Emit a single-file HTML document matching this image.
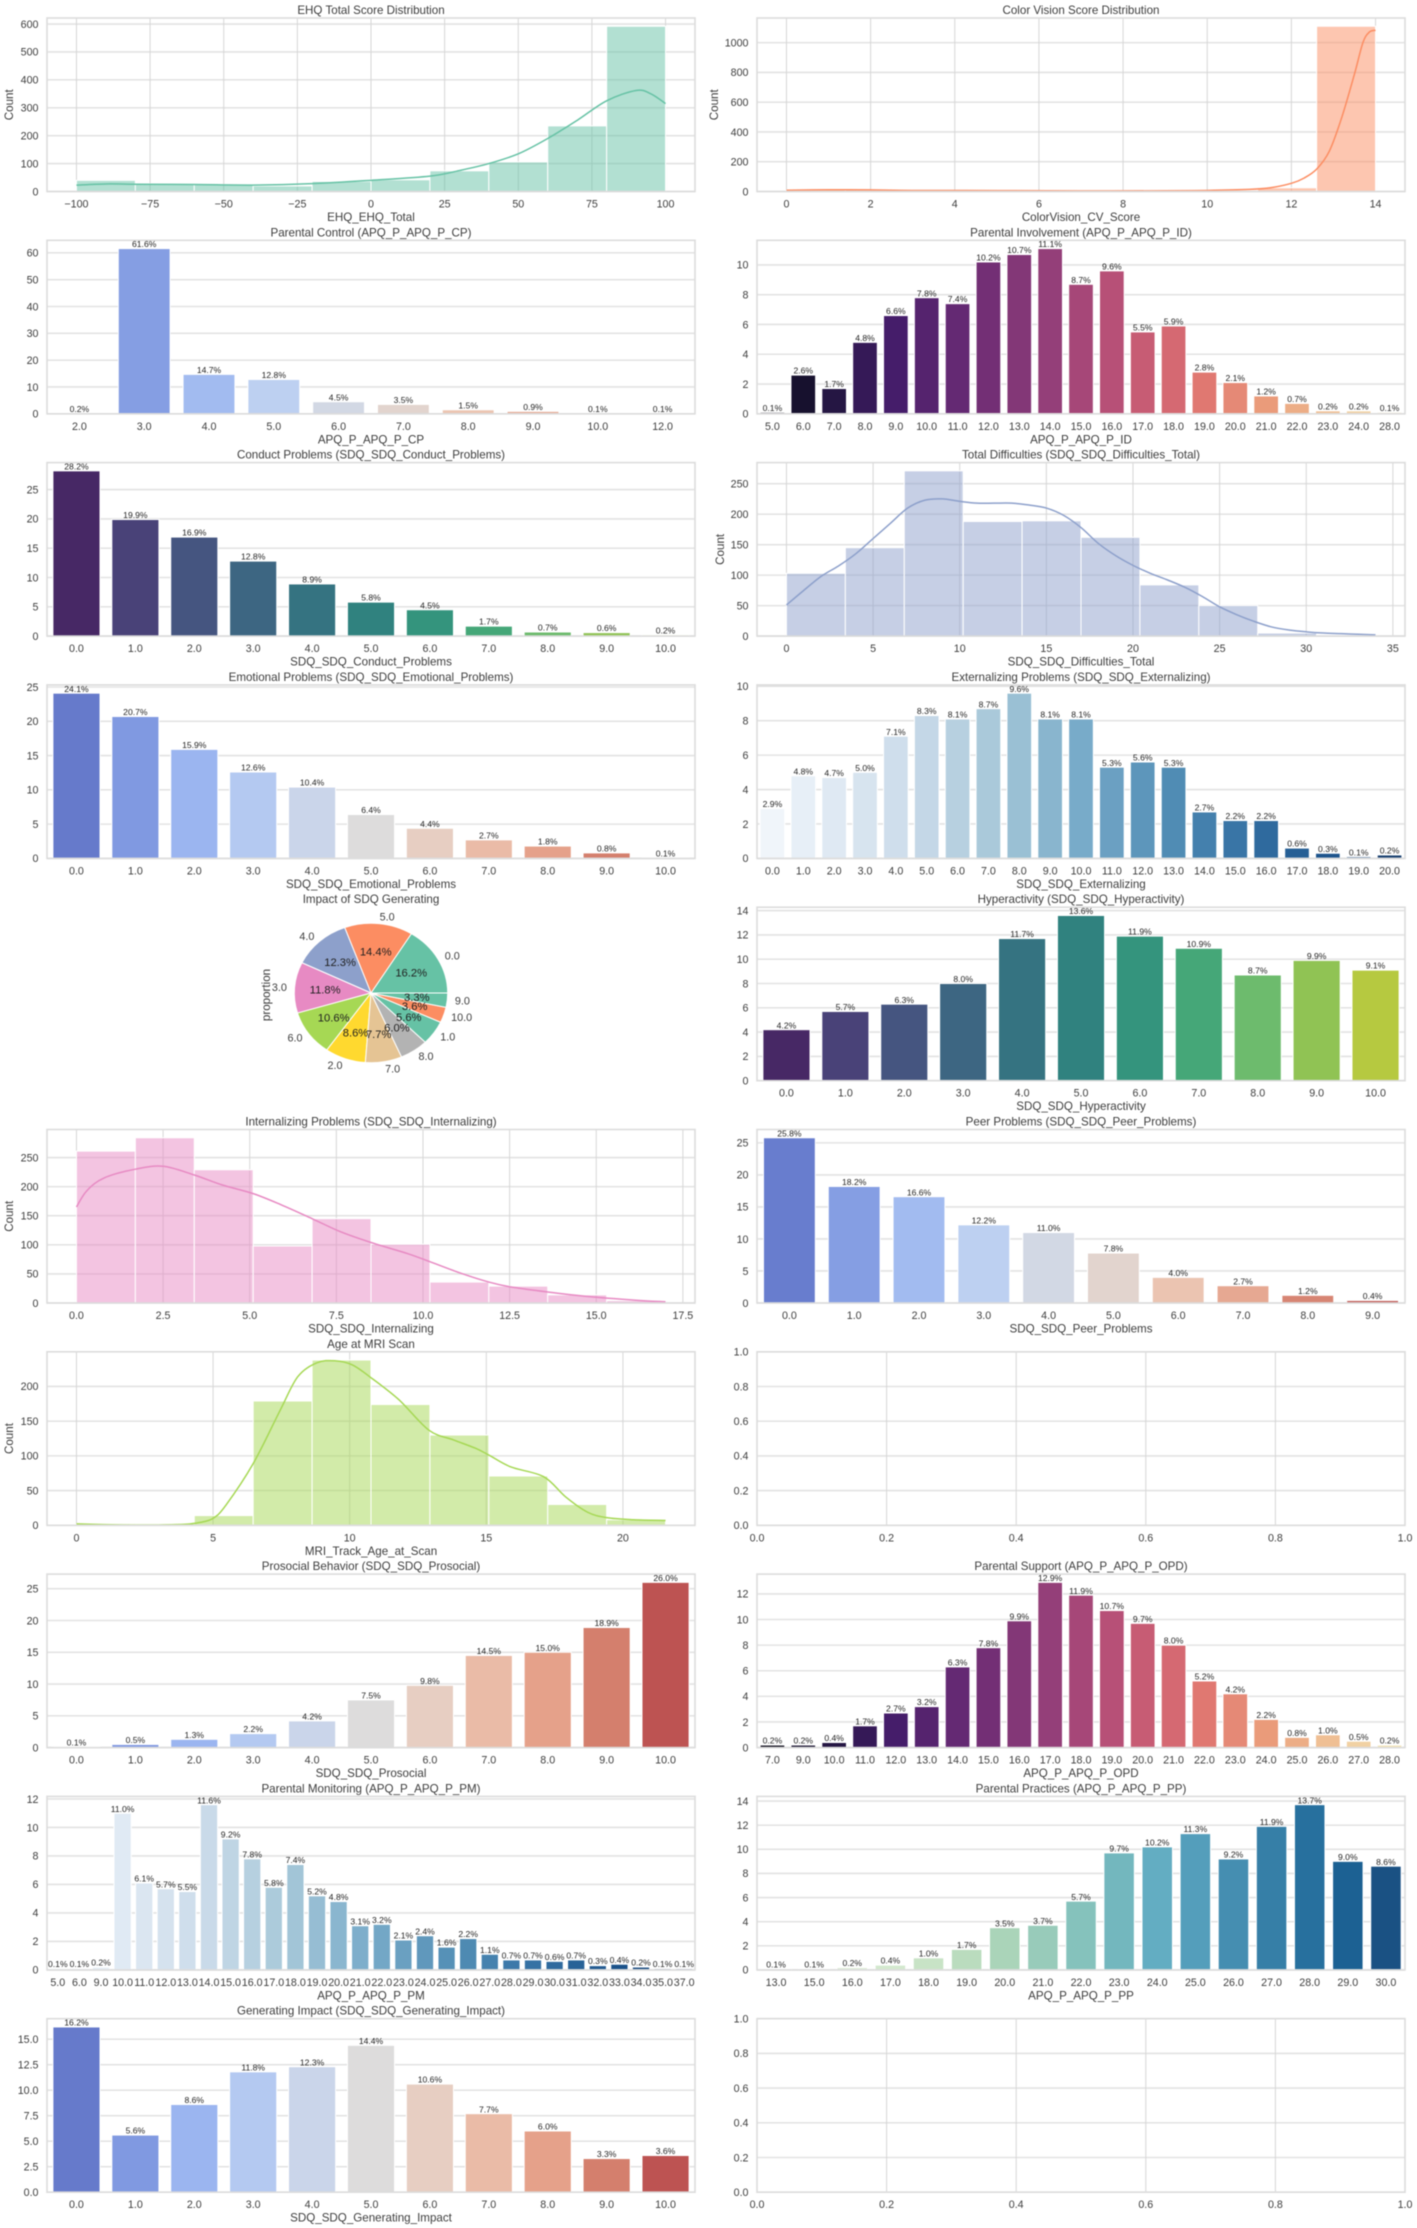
<!DOCTYPE html>
<html lang="en">
<head>
<meta charset="utf-8">
<title>Questionnaire Distributions</title>
<style>
html,body{margin:0;padding:0;background:#fff;}
#figure{display:block;width:1417px;height:2228px;filter:blur(0.55px);}
text{font-family:"Liberation Sans",sans-serif;fill:#3d3d3d;}
text.value-label{fill:#1f1f1f;}
</style>
</head>
<body>
<svg id="figure" xmlns="http://www.w3.org/2000/svg" width="1417" height="2228" viewBox="0 0 1417 2228"></svg>
<script>
/* ---------- histogram data ---------- */
const ehqBinRange = [-100, 100];
const ehqCounts = [40, 28, 25, 20, 36, 42, 74, 106, 235, 592];
const ehqKdeX = [-100, -90, -80, -60, -40, -20, 0, 20, 30, 40, 50, 60, 70, 80, 90, 95, 100];
const ehqKdeY = [23, 27, 26, 25, 23, 28, 40, 55, 75, 100, 135, 190, 255, 325, 362, 350, 315];
const ehqXTicks = [-100, -75, -50, -25, 0, 25, 50, 75, 100];
const ehqYTicks = [0, 100, 200, 300, 400, 500, 600];

const cvBinRange = [0, 14];
const cvCounts = [10, 12, 6, 5, 4, 4, 5, 6, 25, 1110];
const cvKdeX = [0, 1, 2, 3, 5, 7, 9, 10, 11, 11.5, 12, 12.3, 12.6, 12.9, 13.2, 13.5, 13.7, 13.85, 14];
const cvKdeY = [8, 12, 11, 7, 6, 4, 5, 7, 14, 25, 55, 90, 150, 270, 500, 790, 1000, 1070, 1083];
const cvXTicks = [0, 2, 4, 6, 8, 10, 12, 14];
const cvYTicks = [0, 200, 400, 600, 800, 1000];

const totalBinRange = [0, 34];
const totalCounts = [103, 145, 271, 188, 189, 162, 84, 50, 5, 2];
const totalKdeX = [0, 1, 2, 3, 4, 5, 6, 7, 8, 9, 10, 11, 12, 13, 14, 15, 16, 17, 18, 19, 20, 21, 22, 23, 24, 25, 26, 27, 28, 29, 30, 31, 32, 33, 34];
const totalKdeY = [51, 75, 98, 115, 135, 160, 185, 210, 223, 225, 221, 218, 218, 218, 215, 210, 198, 178, 152, 132, 116, 103, 92, 80, 65, 48, 35, 24, 15, 10, 7, 5, 4, 3, 2];
const totalXTicks = [0, 5, 10, 15, 20, 25, 30, 35];
const totalYTicks = [0, 50, 100, 150, 200, 250];

const internalBinRange = [0, 17];
const internalCounts = [261, 284, 229, 98, 145, 101, 36, 29, 14, 4];
const internalKdeX = [0, 0.3, 0.8, 1.7, 2.5, 3.4, 4.2, 5.1, 5.9, 6.8, 7.6, 8.5, 9.55, 10.2, 11.1, 11.9, 12.5, 13.6, 14.8, 16.1, 17];
const internalKdeY = [165, 193, 215, 230, 235, 220, 203, 188, 169, 145, 123, 104, 85, 71, 51, 36, 28, 19, 11, 5, 2];
const internalXTicks = [0, 2.5, 5, 7.5, 10, 12.5, 15, 17.5];
const internalYTicks = [0, 50, 100, 150, 200, 250];

const ageBinRange = [0, 21.56];
const ageCounts = [2, 0, 14, 179, 238, 174, 130, 71, 30, 8];
const ageKdeX = [0, 1, 2, 3, 4, 4.5, 5, 5.47, 6.47, 7.46, 8.1, 8.8, 9.45, 10.1, 10.8, 11.8, 12.9, 13.8, 14.6, 15.1, 15.9, 17.1, 17.9, 18.7, 19.4, 20.4, 21.56];
const ageKdeY = [2, 1, 0.5, 0.5, 1.5, 4, 10, 29, 89, 166, 214, 234, 237, 231, 212, 181, 137, 123, 111, 101, 84, 70, 41, 19, 11, 8, 7];
const ageXTicks = [0, 5, 10, 15, 20];
const ageYTicks = [0, 50, 100, 150, 200];

/* ---------- bar data ---------- */
const controlCategories = ['2.0','3.0','4.0','5.0','6.0','7.0','8.0','9.0','10.0','12.0'];
const controlValues = [0.2, 61.6, 14.7, 12.8, 4.5, 3.5, 1.5, 0.9, 0.1, 0.1];
const controlTicks = [0, 10, 20, 30, 40, 50, 60];

const involvementCategories = ['5.0','6.0','7.0','8.0','9.0','10.0','11.0','12.0','13.0','14.0','15.0','16.0','17.0','18.0','19.0','20.0','21.0','22.0','23.0','24.0','28.0'];
const involvementValues = [0.1, 2.6, 1.7, 4.8, 6.6, 7.8, 7.4, 10.2, 10.7, 11.1, 8.7, 9.6, 5.5, 5.9, 2.8, 2.1, 1.2, 0.7, 0.2, 0.2, 0.1];
const involvementTicks = [0, 2, 4, 6, 8, 10];

const conductCategories = ['0.0','1.0','2.0','3.0','4.0','5.0','6.0','7.0','8.0','9.0','10.0'];
const conductValues = [28.2, 19.9, 16.9, 12.8, 8.9, 5.8, 4.5, 1.7, 0.7, 0.6, 0.2];
const conductTicks = [0, 5, 10, 15, 20, 25];

const emotionalCategories = ['0.0','1.0','2.0','3.0','4.0','5.0','6.0','7.0','8.0','9.0','10.0'];
const emotionalValues = [24.1, 20.7, 15.9, 12.6, 10.4, 6.4, 4.4, 2.7, 1.8, 0.8, 0.1];
const emotionalTicks = [0, 5, 10, 15, 20, 25];

const externalCategories = ['0.0','1.0','2.0','3.0','4.0','5.0','6.0','7.0','8.0','9.0','10.0','11.0','12.0','13.0','14.0','15.0','16.0','17.0','18.0','19.0','20.0'];
const externalValues = [2.9, 4.8, 4.7, 5.0, 7.1, 8.3, 8.1, 8.7, 9.6, 8.1, 8.1, 5.3, 5.6, 5.3, 2.7, 2.2, 2.2, 0.6, 0.3, 0.1, 0.2];
const externalTicks = [0, 2, 4, 6, 8, 10];

const hyperCategories = ['0.0','1.0','2.0','3.0','4.0','5.0','6.0','7.0','8.0','9.0','10.0'];
const hyperValues = [4.2, 5.7, 6.3, 8.0, 11.7, 13.6, 11.9, 10.9, 8.7, 9.9, 9.1];
const hyperTicks = [0, 2, 4, 6, 8, 10, 12, 14];

const peerCategories = ['0.0','1.0','2.0','3.0','4.0','5.0','6.0','7.0','8.0','9.0'];
const peerValues = [25.8, 18.2, 16.6, 12.2, 11.0, 7.8, 4.0, 2.7, 1.2, 0.4];
const peerTicks = [0, 5, 10, 15, 20, 25];

const prosocialCategories = ['0.0','1.0','2.0','3.0','4.0','5.0','6.0','7.0','8.0','9.0','10.0'];
const prosocialValues = [0.1, 0.5, 1.3, 2.2, 4.2, 7.5, 9.8, 14.5, 15.0, 18.9, 26.0];
const prosocialTicks = [0, 5, 10, 15, 20, 25];

const supportCategories = ['7.0','9.0','10.0','11.0','12.0','13.0','14.0','15.0','16.0','17.0','18.0','19.0','20.0','21.0','22.0','23.0','24.0','25.0','26.0','27.0','28.0'];
const supportValues = [0.2, 0.2, 0.4, 1.7, 2.7, 3.2, 6.3, 7.8, 9.9, 12.9, 11.9, 10.7, 9.7, 8.0, 5.2, 4.2, 2.2, 0.8, 1.0, 0.5, 0.2];
const supportTicks = [0, 2, 4, 6, 8, 10, 12];

const monitoringCategories = ['5.0','6.0','9.0','10.0','11.0','12.0','13.0','14.0','15.0','16.0','17.0','18.0','19.0','20.0','21.0','22.0','23.0','24.0','25.0','26.0','27.0','28.0','29.0','30.0','31.0','32.0','33.0','34.0','35.0','37.0'];
const monitoringValues = [0.1, 0.1, 0.2, 11.0, 6.1, 5.7, 5.5, 11.6, 9.2, 7.8, 5.8, 7.4, 5.2, 4.8, 3.1, 3.2, 2.1, 2.4, 1.6, 2.2, 1.1, 0.7, 0.7, 0.6, 0.7, 0.3, 0.4, 0.2, 0.1, 0.1];
const monitoringTicks = [0, 2, 4, 6, 8, 10, 12];

const practicesCategories = ['13.0','15.0','16.0','17.0','18.0','19.0','20.0','21.0','22.0','23.0','24.0','25.0','26.0','27.0','28.0','29.0','30.0'];
const practicesValues = [0.1, 0.1, 0.2, 0.4, 1.0, 1.7, 3.5, 3.7, 5.7, 9.7, 10.2, 11.3, 9.2, 11.9, 13.7, 9.0, 8.6];
const practicesTicks = [0, 2, 4, 6, 8, 10, 12, 14];

const impactCategories = ['0.0','1.0','2.0','3.0','4.0','5.0','6.0','7.0','8.0','9.0','10.0'];
const impactValues = [16.2, 5.6, 8.6, 11.8, 12.3, 14.4, 10.6, 7.7, 6.0, 3.3, 3.6];
const impactTicks = [0, 2.5, 5, 7.5, 10, 12.5, 15];

/* ---------- pie data ---------- */
const pieCategories = ['0.0','5.0','4.0','3.0','6.0','2.0','7.0','8.0','1.0','10.0','9.0'];
const pieValues = [16.2, 14.4, 12.3, 11.8, 10.6, 8.6, 7.7, 6.0, 5.6, 3.6, 3.3];

/* ---------- empty axes ticks ---------- */
const emptyTicks = [0, 0.2, 0.4, 0.6, 0.8, 1];

/* ---------- colour maps (styling) ---------- */
const coolwarm = ['#3b4cc0','#6282ea','#8db0fe','#b8d0f9','#dddcdc','#f5c4ac','#f49a7b','#dd604d','#b40426'];
const viridis = ['#440154','#482878','#3e4989','#31688e','#26828e','#1f9e89','#35b779','#6ece58','#b5de2b','#fde725'];
const magma = ['#000004','#180f3d','#440f76','#721f81','#9e2f7f','#cd4071','#f1605d','#fd9668','#feca8d','#fcfdbf'];
const blues = ['#f7fbff','#deebf7','#c6dbef','#9ecae1','#6baed6','#4292c6','#2171b5','#08519c','#08306b'];
const gnbu = ['#f7fcf0','#e0f3db','#ccebc5','#a8ddb5','#7bccc4','#4eb3d3','#2b8cbe','#0868ac','#084081'];
const pieColors = ['#66c2a5','#fc8d62','#8da0cb','#e78ac3','#a6d854','#ffd92f','#e5c494','#b3b3b3','#66c2a5','#fc8d62','#66c2a5'];

const NS = 'http://www.w3.org/2000/svg';
const figure = document.getElementById('figure');

function mk(tag, attrs, parent, text) {
  const el = document.createElementNS(NS, tag);
  for (const k in attrs) el.setAttribute(k, attrs[k]);
  if (text !== undefined) el.textContent = text;
  parent.appendChild(el);
  return el;
}
function hex(c) { return [1, 3, 5].map(i => parseInt(c.substr(i, 2), 16)); }
function sampleMap(map, t) {
  const p = t * (map.length - 1), i = Math.min(Math.floor(p), map.length - 2), f = p - i;
  const a = hex(map[i]), b = hex(map[i + 1]);
  return [0, 1, 2].map(k => a[k] + (b[k] - a[k]) * f);
}
function desat(rgb, s) {
  const L = (Math.max(...rgb) + Math.min(...rgb)) / 2;
  return 'rgb(' + rgb.map(v => Math.round(L + (v - L) * s)).join(',') + ')';
}
function panelBox(col, row) {
  return { left: col ? 757 : 47, width: 648, top: 18 + 222.3 * row, height: 173.5 };
}
function fmt(v, d) {
  const s = Math.abs(v).toFixed(d);
  return v < 0 ? '\u2212' + s : s;
}
function linear(d0, d1, r0, r1) { return v => r0 + (v - d0) / (d1 - d0) * (r1 - r0); }

function drawFrame(g, b) {
  const el = mk('rect', { x: b.left, y: b.top, width: b.width, height: b.height, fill: 'none', stroke: '#dcdcdc', 'stroke-width': 1.6 }, g);
  
  
}
function drawTitle(g, b, title) {
  const el = mk('text', { x: b.left + b.width / 2, y: b.top - 4, 'text-anchor': 'middle', 'font-size': 11.6 }, g, title);
  
  
}
function drawXLabel(g, b, label) {
  const el = mk('text', { x: b.left + b.width / 2, y: b.top + b.height + 29.5, 'text-anchor': 'middle', 'font-size': 11.6 }, g, label);
  
  
}
function drawYTicks(g, b, ticks, y, decimals, grid) {
  ticks.forEach(t => {
    if (grid) {
      const line = mk('line', { x1: b.left, x2: b.left + b.width, y1: y(t), y2: y(t), stroke: '#e3e3e3', 'stroke-width': 1.6 }, g);
      
      
    }
    const label = mk('text', { x: b.left - 8.5, y: y(t) + 3.8, 'text-anchor': 'end', 'font-size': 10.7 }, g, fmt(t, decimals));
    
    
  });
}
function drawXTick(g, b, px, text, grid) {
  if (grid) {
    const line = mk('line', { x1: px, x2: px, y1: b.top, y2: b.top + b.height, stroke: '#d6d6d6', 'stroke-width': 1 }, g);
    
    
  }
  const label = mk('text', { x: px, y: b.top + b.height + 16, 'text-anchor': 'middle', 'font-size': 10.7 }, g, text);
  
  
}

function barChart(o) {
  const b = panelBox(o.col, o.row);
  const g = mk('g', {}, figure);
  
  
  const n = o.categories.length;
  const x = linear(-0.5, n - 0.5, b.left, b.left + b.width);
  const yMax = Math.max(...o.values) * 1.05;
  const y = linear(0, yMax, b.top + b.height, b.top);
  drawYTicks(g, b, o.ticks, y, o.decimals || 0, true);
  o.values.forEach((v, i) => {
    const colour = desat(sampleMap(o.palette, (i + 1) / (n + 1)), 0.75);
    const bar = mk('rect', {
      x: x(i - 0.4), y: y(v), width: x(i + 0.4) - x(i - 0.4),
      height: y(0) - y(v), fill: colour, stroke: '#fff', 'stroke-width': 1
    }, g);
    
    
  });
  drawFrame(g, b);
  o.values.forEach((v, i) => {
    const label = mk('text', { class: 'value-label', x: x(i), y: y(v) - 1.4, 'text-anchor': 'middle', 'font-size': 8.6 }, g, v.toFixed(1) + '%');
    
    
    drawXTick(g, b, x(i), o.categories[i], false);
  });
  drawTitle(g, b, o.title);
  drawXLabel(g, b, o.xlabel);
}

function smoothPath(pts) {
  let d = 'M' + pts[0][0].toFixed(2) + ' ' + pts[0][1].toFixed(2);
  for (let i = 0; i < pts.length - 1; i++) {
    const p0 = pts[Math.max(i - 1, 0)], p1 = pts[i], p2 = pts[i + 1], p3 = pts[Math.min(i + 2, pts.length - 1)];
    const c1 = [p1[0] + (p2[0] - p0[0]) / 6, p1[1] + (p2[1] - p0[1]) / 6];
    const c2 = [p2[0] - (p3[0] - p1[0]) / 6, p2[1] - (p3[1] - p1[1]) / 6];
    d += 'C' + c1[0].toFixed(2) + ' ' + c1[1].toFixed(2) + ' ' + c2[0].toFixed(2) + ' ' + c2[1].toFixed(2) + ' ' + p2[0].toFixed(2) + ' ' + p2[1].toFixed(2);
  }
  return d;
}

function histChart(o) {
  const b = panelBox(o.col, o.row);
  const g = mk('g', {}, figure);
  
  
  const lo = o.range[0], hi = o.range[1], pad = (hi - lo) * 0.05;
  const x = linear(lo - pad, hi + pad, b.left, b.left + b.width);
  const yMax = Math.max(...o.counts, ...o.kdeY) * 1.05;
  const y = linear(0, yMax, b.top + b.height, b.top);
  drawYTicks(g, b, o.yTicks, y, 0, true);
  o.xTicks.forEach(t => drawXTick(g, b, x(t), fmt(t, o.xDecimals || 0), true));
  const w = (hi - lo) / o.counts.length;
  o.counts.forEach((c, i) => {
    const bar = mk('rect', {
      x: x(lo + i * w), y: y(c), width: x(lo + (i + 1) * w) - x(lo + i * w),
      height: y(0) - y(c), fill: o.colour, 'fill-opacity': 0.5, stroke: '#fff', 'stroke-width': 1
    }, g);
    
    
  });
  const pts = o.kdeX.map((v, i) => [x(v), y(o.kdeY[i])]);
  const line = mk('path', { d: smoothPath(pts), fill: 'none', stroke: o.colour, 'stroke-width': 1.5 }, g);
  
  
  drawFrame(g, b);
  drawTitle(g, b, o.title);
  drawXLabel(g, b, o.xlabel);
  const ly = b.top + b.height / 2, lx = b.left - o.yLabelGap;
  const yl = mk('text', { x: lx, y: ly, transform: 'rotate(-90 ' + lx + ' ' + ly + ')', 'text-anchor': 'middle', 'font-size': 11.6 }, g, 'Count');
  
  
}

function emptyChart(col, row, name) {
  const b = panelBox(col, row);
  const g = mk('g', {}, figure);
  
  
  const x = linear(0, 1, b.left, b.left + b.width);
  const y = linear(0, 1, b.top + b.height, b.top);
  drawYTicks(g, b, emptyTicks, y, 1, true);
  emptyTicks.forEach(t => drawXTick(g, b, x(t), fmt(t, 1), true));
  drawFrame(g, b);
}

function pieChart(o) {
  const b = panelBox(o.col, o.row);
  const g = mk('g', {}, figure);
  
  
  const cx = 371, cy = 993, rx = 76.7, ry = 69.7;
  const total = o.values.reduce((a, c) => a + c, 0);
  let start = 0;
  const mids = [];
  o.values.forEach((v, i) => {
    const sweep = v / total * Math.PI * 2, end = start + sweep;
    const d = 'M' + cx + ' ' + cy +
      'L' + (cx + rx * Math.cos(start)).toFixed(2) + ' ' + (cy - ry * Math.sin(start)).toFixed(2) +
      'A' + rx + ' ' + ry + ' 0 ' + (sweep > Math.PI ? 1 : 0) + ' 0 ' +
      (cx + rx * Math.cos(end)).toFixed(2) + ' ' + (cy - ry * Math.sin(end)).toFixed(2) + 'Z';
    const slice = mk('path', { d: d, fill: o.colours[i % o.colours.length], stroke: '#fff', 'stroke-width': 1 }, g);
    
    
    mids.push((start + end) / 2);
    start = end;
  });
  o.values.forEach((v, i) => {
    const m = mids[i], c = Math.cos(m), s = Math.sin(m);
    const lab = mk('text', {
      x: cx + 1.1 * rx * c, y: cy - 1.1 * ry * s + 3.8,
      'text-anchor': c > 0 ? 'start' : 'end', 'font-size': 10.8
    }, g, o.categories[i]);
    
    
    const pct = mk('text', {
      class: 'value-label',
      x: cx + 0.6 * rx * c, y: cy - 0.6 * ry * s + 3.9,
      'text-anchor': 'middle', 'font-size': 11.2
    }, g, v.toFixed(1) + '%');
    
    
  });
  drawTitle(g, b, o.title);
  const yl = mk('text', { x: 270, y: 995, transform: 'rotate(-90 270 995)', 'text-anchor': 'middle', 'font-size': 11.6 }, g, 'proportion');
  
  
}

/* ---------- assemble the figure ---------- */
histChart({ name: 'ehq-histogram', col: 0, row: 0, title: 'EHQ Total Score Distribution', xlabel: 'EHQ_EHQ_Total', range: ehqBinRange, counts: ehqCounts, kdeX: ehqKdeX, kdeY: ehqKdeY, xTicks: ehqXTicks, yTicks: ehqYTicks, colour: '#66c2a5', yLabelGap: 34 });
histChart({ name: 'color-vision-histogram', col: 1, row: 0, title: 'Color Vision Score Distribution', xlabel: 'ColorVision_CV_Score', range: cvBinRange, counts: cvCounts, kdeX: cvKdeX, kdeY: cvKdeY, xTicks: cvXTicks, yTicks: cvYTicks, colour: '#fc8d62', yLabelGap: 39 });
barChart({ name: 'parental-control-bars', col: 0, row: 1, title: 'Parental Control (APQ_P_APQ_P_CP)', xlabel: 'APQ_P_APQ_P_CP', categories: controlCategories, values: controlValues, ticks: controlTicks, palette: coolwarm });
barChart({ name: 'parental-involvement-bars', col: 1, row: 1, title: 'Parental Involvement (APQ_P_APQ_P_ID)', xlabel: 'APQ_P_APQ_P_ID', categories: involvementCategories, values: involvementValues, ticks: involvementTicks, palette: magma });
barChart({ name: 'conduct-problems-bars', col: 0, row: 2, title: 'Conduct Problems (SDQ_SDQ_Conduct_Problems)', xlabel: 'SDQ_SDQ_Conduct_Problems', categories: conductCategories, values: conductValues, ticks: conductTicks, palette: viridis });
histChart({ name: 'total-difficulties-histogram', col: 1, row: 2, title: 'Total Difficulties (SDQ_SDQ_Difficulties_Total)', xlabel: 'SDQ_SDQ_Difficulties_Total', range: totalBinRange, counts: totalCounts, kdeX: totalKdeX, kdeY: totalKdeY, xTicks: totalXTicks, yTicks: totalYTicks, colour: '#8da0cb', yLabelGap: 33 });
barChart({ name: 'emotional-problems-bars', col: 0, row: 3, title: 'Emotional Problems (SDQ_SDQ_Emotional_Problems)', xlabel: 'SDQ_SDQ_Emotional_Problems', categories: emotionalCategories, values: emotionalValues, ticks: emotionalTicks, palette: coolwarm });
barChart({ name: 'externalizing-problems-bars', col: 1, row: 3, title: 'Externalizing Problems (SDQ_SDQ_Externalizing)', xlabel: 'SDQ_SDQ_Externalizing', categories: externalCategories, values: externalValues, ticks: externalTicks, palette: blues });
pieChart({ name: 'sdq-impact-pie', col: 0, row: 4, title: 'Impact of SDQ Generating', categories: pieCategories, values: pieValues, colours: pieColors });
barChart({ name: 'hyperactivity-bars', col: 1, row: 4, title: 'Hyperactivity (SDQ_SDQ_Hyperactivity)', xlabel: 'SDQ_SDQ_Hyperactivity', categories: hyperCategories, values: hyperValues, ticks: hyperTicks, palette: viridis });
histChart({ name: 'internalizing-histogram', col: 0, row: 5, title: 'Internalizing Problems (SDQ_SDQ_Internalizing)', xlabel: 'SDQ_SDQ_Internalizing', range: internalBinRange, counts: internalCounts, kdeX: internalKdeX, kdeY: internalKdeY, xTicks: internalXTicks, xDecimals: 1, yTicks: internalYTicks, colour: '#e78ac3', yLabelGap: 34 });
barChart({ name: 'peer-problems-bars', col: 1, row: 5, title: 'Peer Problems (SDQ_SDQ_Peer_Problems)', xlabel: 'SDQ_SDQ_Peer_Problems', categories: peerCategories, values: peerValues, ticks: peerTicks, palette: coolwarm });
histChart({ name: 'mri-age-histogram', col: 0, row: 6, title: 'Age at MRI Scan', xlabel: 'MRI_Track_Age_at_Scan', range: ageBinRange, counts: ageCounts, kdeX: ageKdeX, kdeY: ageKdeY, xTicks: ageXTicks, yTicks: ageYTicks, colour: '#a6d854', yLabelGap: 34 });
emptyChart(1, 6, 'empty-axes-upper');
barChart({ name: 'prosocial-bars', col: 0, row: 7, title: 'Prosocial Behavior (SDQ_SDQ_Prosocial)', xlabel: 'SDQ_SDQ_Prosocial', categories: prosocialCategories, values: prosocialValues, ticks: prosocialTicks, palette: coolwarm });
barChart({ name: 'parental-support-bars', col: 1, row: 7, title: 'Parental Support (APQ_P_APQ_P_OPD)', xlabel: 'APQ_P_APQ_P_OPD', categories: supportCategories, values: supportValues, ticks: supportTicks, palette: magma });
barChart({ name: 'parental-monitoring-bars', col: 0, row: 8, title: 'Parental Monitoring (APQ_P_APQ_P_PM)', xlabel: 'APQ_P_APQ_P_PM', categories: monitoringCategories, values: monitoringValues, ticks: monitoringTicks, palette: blues });
barChart({ name: 'parental-practices-bars', col: 1, row: 8, title: 'Parental Practices (APQ_P_APQ_P_PP)', xlabel: 'APQ_P_APQ_P_PP', categories: practicesCategories, values: practicesValues, ticks: practicesTicks, palette: gnbu });
barChart({ name: 'generating-impact-bars', col: 0, row: 9, title: 'Generating Impact (SDQ_SDQ_Generating_Impact)', xlabel: 'SDQ_SDQ_Generating_Impact', categories: impactCategories, values: impactValues, ticks: impactTicks, decimals: 1, palette: coolwarm });
emptyChart(1, 9, 'empty-axes-lower');
</script>
</body>
</html>
